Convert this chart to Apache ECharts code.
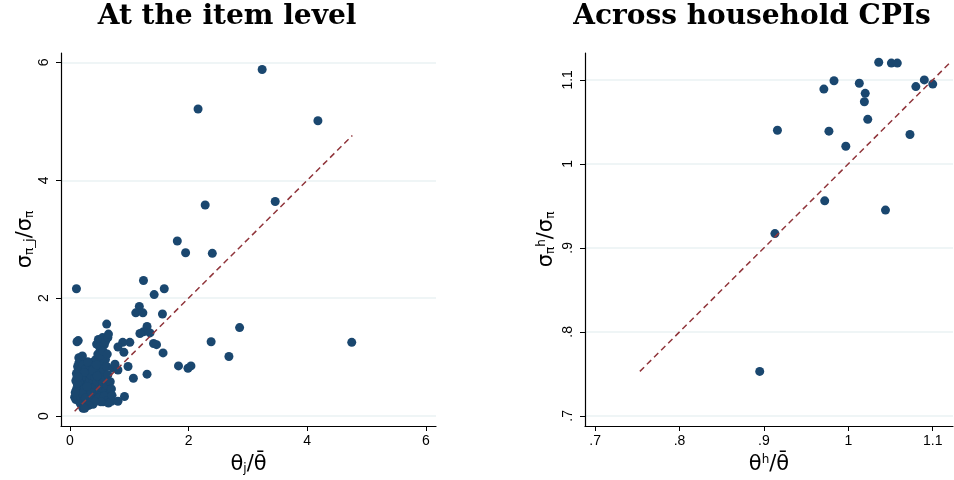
<!DOCTYPE html>
<html>
<head>
<meta charset="utf-8">
<script src="https://cdn.jsdelivr.net/npm/echarts@6/dist/echarts.min.js"></script>
<style>
  html, body { margin: 0; background: #fff; }
  #chart { width: 954px; height: 480px; }
</style>
</head>
<body>
<div id="chart"></div>
<script>
// left panel: item level, [theta_j/theta_bar, sigma_pi_j/sigma_pi]
var itemOutliers = [
  [3.24, 5.88], [2.16, 5.21], [4.18, 5.01], [2.28, 3.58], [3.46, 3.64],
  [1.81, 2.97], [1.95, 2.77], [2.40, 2.76], [0.11, 2.16], [1.24, 2.30],
  [1.42, 2.06], [1.59, 2.16], [1.17, 1.86], [1.11, 1.75], [1.23, 1.75],
  [1.56, 1.73], [0.62, 1.56], [1.30, 1.52], [1.24, 1.43], [1.35, 1.41],
  [1.18, 1.40], [2.86, 1.50], [4.75, 1.25], [2.38, 1.26], [2.68, 1.01],
  [1.41, 1.23], [1.46, 1.21], [1.57, 1.07], [1.83, 0.85], [1.99, 0.81],
  [2.04, 0.85], [1.30, 0.71], [1.07, 0.64], [0.98, 0.84], [0.92, 0.33],
  [1.01, 1.25], [0.89, 1.25], [0.91, 1.08], [0.81, 1.17], [0.76, 0.88],
  [0.81, 0.78], [0.63, 1.05], [0.65, 1.39], [0.14, 1.28], [0.12, 1.26],
  [0.15, 0.99], [0.21, 1.02], [0.70, 0.25], [0.81, 0.25], [0.71, 0.35],
  [0.25, 0.13]
];
var itemUpperCluster = [
  [0.45, 1.22], [0.48, 1.30], [0.52, 1.27], [0.55, 1.33], [0.50, 1.17],
  [0.58, 1.21], [0.60, 1.27], [0.64, 1.33], [0.47, 1.05], [0.51, 1.03],
  [0.56, 1.10], [0.45, 0.87], [0.73, 0.81]
];
var itemCluster = [
  [0.08, 0.32], [0.10, 0.28], [0.12, 0.35], [0.14, 0.30], [0.17, 0.22],
  [0.20, 0.18], [0.22, 0.13], [0.25, 0.15], [0.28, 0.20], [0.30, 0.25],
  [0.11, 0.45], [0.13, 0.52], [0.10, 0.60], [0.12, 0.66], [0.11, 0.72],
  [0.14, 0.78], [0.13, 0.84], [0.15, 0.90], [0.18, 0.95], [0.20, 1.00],
  [0.16, 0.40], [0.18, 0.48], [0.19, 0.56], [0.17, 0.63], [0.18, 0.70],
  [0.16, 0.75], [0.20, 0.82], [0.22, 0.88], [0.21, 0.60], [0.23, 0.66],
  [0.24, 0.42], [0.25, 0.50], [0.26, 0.58], [0.27, 0.35], [0.28, 0.72],
  [0.29, 0.64], [0.30, 0.45], [0.31, 0.55], [0.32, 0.38], [0.33, 0.30],
  [0.34, 0.62], [0.35, 0.70], [0.36, 0.48], [0.37, 0.26], [0.38, 0.56],
  [0.40, 0.34], [0.41, 0.42], [0.42, 0.66], [0.43, 0.74], [0.44, 0.50],
  [0.45, 0.28], [0.46, 0.58], [0.47, 0.82], [0.48, 0.40], [0.50, 0.64],
  [0.50, 0.90], [0.52, 0.34], [0.53, 0.72], [0.54, 0.48], [0.55, 0.56],
  [0.56, 0.24], [0.57, 0.80], [0.58, 0.62], [0.60, 0.42], [0.61, 0.30],
  [0.62, 0.52], [0.64, 0.70], [0.66, 0.36], [0.68, 0.58], [0.70, 0.46],
  [0.19, 0.32], [0.21, 0.38], [0.23, 0.26], [0.26, 0.30], [0.35, 0.22],
  [0.39, 0.20], [0.15, 0.58], [0.27, 0.80], [0.33, 0.86], [0.38, 0.78],
  [0.40, 0.92], [0.44, 0.96], [0.30, 0.92], [0.24, 0.74], [0.12, 0.56],
  [0.09, 0.40], [0.14, 0.66], [0.36, 0.40], [0.48, 0.30], [0.58, 0.34],
  [0.63, 0.26], [0.65, 0.22], [0.52, 0.24], [0.42, 0.24], [0.32, 0.18],
  [0.29, 0.50], [0.46, 0.68], [0.55, 0.88], [0.60, 0.96], [0.62, 0.84]
];
var itemDiagonal = [0.08, 4.76];

// right panel: across household CPIs, [theta_h/theta_bar, sigma_pi_h/sigma_pi]
var householdPoints = [
  [0.916, 1.040], [0.913, 0.917], [0.972, 0.956], [0.971, 1.089], [0.983, 1.099],
  [0.977, 1.039], [0.997, 1.021], [1.013, 1.096], [1.020, 1.084], [1.019, 1.074],
  [1.023, 1.053], [1.036, 1.121], [1.051, 1.120], [1.058, 1.120], [1.044, 0.945],
  [1.073, 1.035], [1.080, 1.092], [1.090, 1.100], [1.100, 1.095], [0.895, 0.753]
];
var householdDiagonal = [0.753, 1.12];

var itemTicks = [0, 2, 4, 6];
var householdTicks = [0.7, 0.8, 0.9, 1, 1.1];

var navy = '#1a476f';
var maroon = '#90353b';
var labelFont = 'Liberation Sans';
var titleStyle = { fontFamily: 'DejaVu Serif', fontWeight: 'bold', fontSize: 28, color: '#000' };

var fmtDecimal = function(v) {
  return String(+v.toFixed(2)).replace(/^0\./, '.');
};

var richName = {
  a: { fontSize: 21, fontFamily: 'DejaVu Sans', color: '#000' },
  s: { fontSize: 12, fontFamily: 'DejaVu Sans', color: '#000', verticalAlign: 'bottom' },
  u: { fontSize: 12, fontFamily: 'DejaVu Sans', color: '#000', verticalAlign: 'top' }
};

var makeAxis = function(opts) {
  return {
    type: 'value',
    gridIndex: opts.grid,
    min: opts.min,
    max: opts.max,
    name: opts.name,
    nameLocation: 'middle',
    nameGap: opts.nameGap,
    nameTextStyle: { rich: richName },
    axisLine: { show: true, onZero: false, lineStyle: { color: '#000', width: 1.2 } },
    axisTick: { show: true, length: 5, customValues: opts.ticks, lineStyle: { color: '#000' } },
    axisLabel: {
      customValues: opts.ticks,
      rotate: opts.rotate || 0,
      margin: opts.margin || 8,
      fontSize: 14,
      fontFamily: labelFont,
      color: '#000',
      formatter: opts.formatter
    },
    splitLine: { show: !!opts.split, lineStyle: { color: '#eaf2f3', width: 1.5 } }
  };
};

var chart = echarts.init(document.getElementById('chart'));
chart.setOption({
  animation: false,
  backgroundColor: '#fff',
  title: [
    { text: 'At the item level', left: 222, top: -2, textAlign: 'center', textStyle: titleStyle },
    { text: 'Across household CPIs', left: 747, top: -2, textAlign: 'center', textStyle: titleStyle }
  ],
  grid: [
    { left: 61, right: 518, top: 53, bottom: 52 },
    { left: 585, right: 1, top: 53, bottom: 52 }
  ],
  xAxis: [
    makeAxis({ grid: 0, min: -0.15, max: 6.17, ticks: itemTicks, nameGap: 28,
      name: '{a|θ}{s|j}{a|/θ̄}' }),
    makeAxis({ grid: 1, min: 0.688, max: 1.124, ticks: householdTicks, nameGap: 28,
      name: '{a|θ}{u|h}{a|/θ̄}', formatter: fmtDecimal })
  ],
  yAxis: [
    makeAxis({ grid: 0, min: -0.17, max: 6.16, ticks: itemTicks, nameGap: 24, rotate: 90, split: true,
      margin: 10, name: '{a|σ}{s|π_j}{a|/σ}{s|π}' }),
    makeAxis({ grid: 1, min: 0.688, max: 1.132, ticks: householdTicks, nameGap: 28, rotate: 90, split: true,
      margin: 10, name: '{a|σ}{s|π}{u|h}{a|/σ}{s|π}', formatter: fmtDecimal })
  ],
  series: [
    {
      type: 'scatter', xAxisIndex: 0, yAxisIndex: 0, symbolSize: 9,
      itemStyle: { color: navy, opacity: 1 },
      data: itemCluster.concat(itemUpperCluster, itemOutliers)
    },
    {
      type: 'line', xAxisIndex: 0, yAxisIndex: 0, showSymbol: false, z: 5,
      lineStyle: { color: maroon, width: 1.5, type: [6, 4] },
      data: itemDiagonal.map(function(v) { return [v, v]; })
    },
    {
      type: 'scatter', xAxisIndex: 1, yAxisIndex: 1, symbolSize: 9,
      itemStyle: { color: navy, opacity: 1 },
      data: householdPoints
    },
    {
      type: 'line', xAxisIndex: 1, yAxisIndex: 1, showSymbol: false, z: 5,
      lineStyle: { color: maroon, width: 1.5, type: [6, 4] },
      data: householdDiagonal.map(function(v) { return [v, v]; })
    }
  ]
});
</script>
</body>
</html>
